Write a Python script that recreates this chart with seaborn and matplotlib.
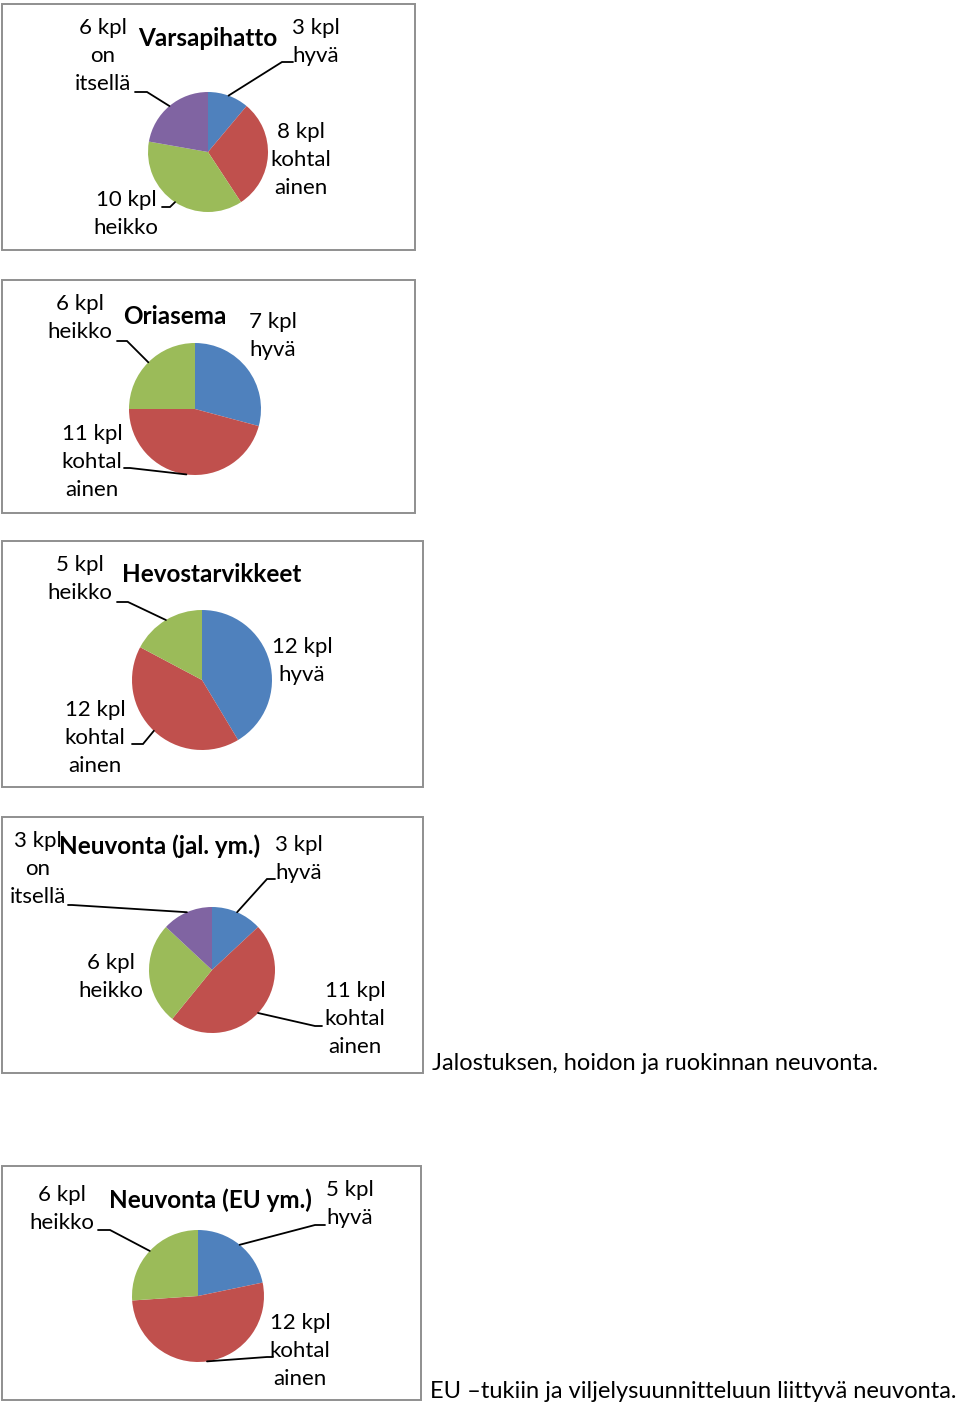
import matplotlib
matplotlib.use("Agg")
import matplotlib.pyplot as plt
import numpy as np
import seaborn as sns
from matplotlib.patches import Rectangle

sns.set_theme(style="white")
plt.rcParams['font.family'] = ['Lato', 'DejaVu Sans']

# ---------------- data ----------------
titles = ["Varsapihatto", "Oriasema", "Hevostarvikkeet",
          "Neuvonta (jal. ym.)", "Neuvonta (EU ym.)"]
categories = ["hyvä", "kohtalainen", "heikko", "on itsellä"]
varsapihatto = [3, 8, 10, 6]
oriasema = [7, 11, 6]
hevostarvikkeet = [12, 12, 5]
neuvonta_jal = [3, 11, 6, 3]
neuvonta_eu = [5, 12, 6]
label_texts = ["kpl\nhyvä", "kpl\nkohtal\nainen", "kpl\nheikko", "kpl\non\nitsellä"]
captions = ["Jalostuksen, hoidon ja ruokinnan neuvonta.",
            "EU –tukiin ja viljelysuunnitteluun liittyvä neuvonta."]
series = [varsapihatto, oriasema, hevostarvikkeet, neuvonta_jal, neuvonta_eu]

colors = ["#4F81BD", "#C0504D", "#9BBB59", "#8064A2"]

# ---------------- layout (pixel coords, y measured from top) ----------------
W, H = 960, 1407
boxes = [(2, 4, 415, 250), (2, 280, 415, 513), (2, 541, 423, 787),
         (2, 817, 423, 1073), (2, 1166, 421, 1400)]
centers = [(208, 152), (195, 409), (202, 680), (212, 970), (198, 1296)]
radii = [60, 66, 70, 63, 66]
title_pos = [(208, 38), (175, 316), (212, 575), (160, 846), (210, 1200)]
# label centre positions per wedge, and leader (elbow, stub end) or None
label_pos = [
    [(316, 42), (301, 160), (126, 214), (103, 56)],
    [(273, 336), (92, 462), (80, 318)],
    [(302, 661), (95, 738), (80, 579)],
    [(299, 859), (355, 1019), (111, 977), (38, 869)],
    [(350, 1204), (300, 1351), (62, 1209)],
]
leaders = [
    [((282, 62), (293, 62)), None, ((170, 207), (162, 207)), ((147, 92), (135, 92))],
    [None, ((130, 468), (124, 468)), ((127, 341), (117, 341))],
    [None, ((143, 744), (132, 744)), ((128, 602), (117, 602))],
    [((267, 879), (275, 879)), ((315, 1026), (322, 1026)), None, ((72, 905), (68, 905))],
    [((315, 1225), (325, 1225)), ((267, 1357), (273, 1357)), ((110, 1230), (98, 1230))],
]
caption_pos = [(432, 1063), (430, 1392)]

fig = plt.figure(figsize=(W / 100, H / 100), dpi=100)
fig.patch.set_facecolor("white")
ax = fig.add_axes([0, 0, 1, 1])


def Y(y):
    return H - y


FS = 16
FT = 17.5
FC = 17.0
for i, vals in enumerate(series):
    x0, y0, x1, y1 = boxes[i]
    ax.add_patch(Rectangle((x0, Y(y1)), x1 - x0, y1 - y0, fill=False,
                           edgecolor="#8f8f8f", linewidth=1.4, zorder=1))
    cx, cy = centers[i]
    r = radii[i]
    wedges, _ = ax.pie(vals, colors=colors[:len(vals)], startangle=90,
                       counterclock=False, center=(cx, Y(cy)), radius=r,
                       wedgeprops=dict(linewidth=0), frame=True)
    tx, ty = title_pos[i]
    ax.text(tx, Y(ty), titles[i], ha="center", va="center", fontsize=FT,
            fontweight="bold", color="black", zorder=5)
    total = sum(vals)
    cum = np.cumsum([0] + list(vals))
    for j, v in enumerate(vals):
        lx, ly = label_pos[i][j]
        ax.text(lx, Y(ly), f"{v} {label_texts[j]}", ha="center", va="center",
                multialignment="center", fontsize=FS, linespacing=1.5,
                color="black", zorder=4)
        if leaders[i][j] is not None:
            mid = (cum[j] + v / 2) / total * 2 * np.pi
            px, py = cx + r * np.sin(mid), cy - r * np.cos(mid)
            (ex, ey), (sx, sy) = leaders[i][j]
            ax.plot([px, ex, sx], [Y(py), Y(ey), Y(sy)], color="black",
                    linewidth=1.3, solid_joinstyle="miter", zorder=3)

ax.set_xlim(0, W)
ax.set_ylim(0, H)
ax.set_aspect("auto")
ax.set_axis_off()

for (cx, cy), txt in zip(caption_pos, captions):
    ax.text(cx, Y(cy), txt, ha="left", va="center", fontsize=FC, color="black")

fig.savefig("out.png", dpi=100, facecolor="white")
